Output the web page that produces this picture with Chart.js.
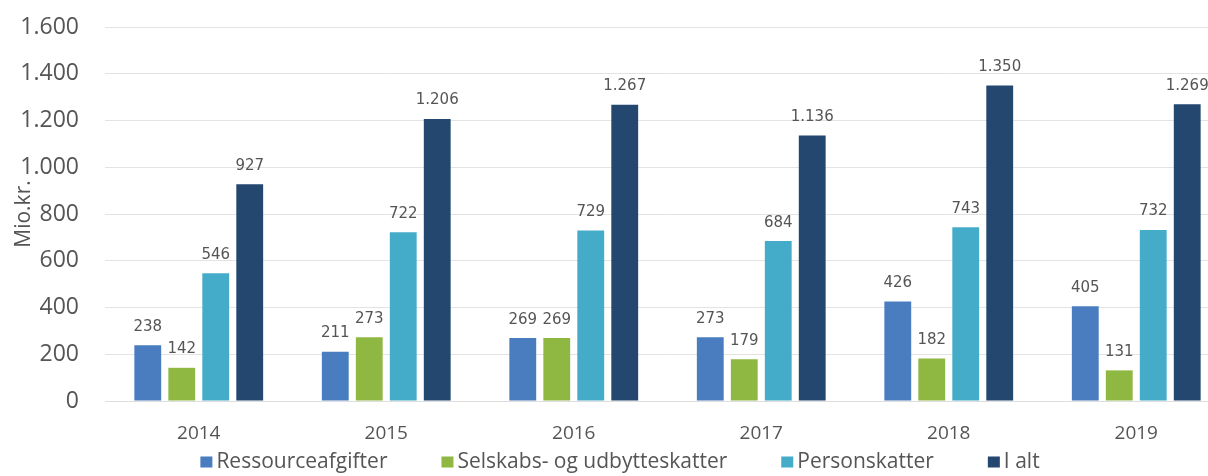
<!DOCTYPE html>
<html>
<head>
<meta charset="utf-8">
<script src="https://cdn.jsdelivr.net/npm/chart.js@4"></script>
<style>
  html, body { margin: 0; padding: 0; background: #fff; overflow: hidden; }
  #wrap { width: 1240px; height: 476px; }
</style>
</head>
<body>
<div id="wrap"><canvas id="chart1"></canvas></div>
<script>
const years = ['2014', '2015', '2016', '2017', '2018', '2019'];
const ressource = [238, 211, 269, 273, 426, 405];
const selskab = [142, 273, 269, 179, 182, 131];
const person = [546, 722, 729, 684, 743, 732];
const ialt = [927, 1206, 1267, 1136, 1350, 1269];

const fmt = v => String(v).replace(/\B(?=(\d{3})+(?!\d))/g, '.');

const FONT = '"Open Sans", "Noto Sans", sans-serif';

// value over each bar
const valueLabels = {
    id: 'valueLabels',
    afterDatasetsDraw(chart) {
        const ctx = chart.ctx;
        ctx.save();
        ctx.font = '15px "DejaVu Sans"';
        ctx.fillStyle = '#555';
        ctx.textAlign = 'center';
        ctx.textBaseline = 'bottom';
        chart.data.datasets.forEach((ds, i) => {
            chart.getDatasetMeta(i).data.forEach((bar, j) => {
                ctx.fillText(fmt(ds.data[j]), bar.x, bar.y - 11);
            });
        });
        ctx.restore();
    }
};

// legend row under the axis, wide gaps like the original
const bottomLegend = {
    id: 'bottomLegend',
    afterDraw(chart) {
        const ctx = chart.ctx;
        const box = 11, gapText = 5, gapItem = 54;
        ctx.save();
        ctx.font = '21px ' + FONT;
        const items = chart.data.datasets.map(ds => ({
            text: ds.label, color: ds.backgroundColor, w: ctx.measureText(ds.label).width
        }));
        const total = items.reduce((s, it) => s + box + gapText + it.w, 0) + gapItem * (items.length - 1);
        let x = chart.width / 2 - total / 2;
        const y = chart.height - 14;
        ctx.textBaseline = 'middle';
        ctx.textAlign = 'left';
        items.forEach(it => {
            ctx.fillStyle = it.color;
            ctx.fillRect(x, y - box / 2, box + 1, box);
            x += box + gapText;
            ctx.fillStyle = '#555';
            ctx.fillText(it.text, x, y);
            x += it.w + gapItem;
        });
        ctx.restore();
    }
};

const config1 = {
    type: 'bar',
    data: {
        labels: years,
        datasets: [
            { label: 'Ressourceafgifter', data: ressource, backgroundColor: '#4a7cc0' },
            { label: 'Selskabs- og udbytteskatter', data: selskab, backgroundColor: '#8fb843' },
            { label: 'Personskatter', data: person, backgroundColor: '#44acc9' },
            { label: 'I alt', data: ialt, backgroundColor: '#23476f' }
        ]
    },
    options: {
        responsive: true,
        maintainAspectRatio: false,
        animation: false,
        categoryPercentage: 0.725,
        barPercentage: 0.79,
        layout: { padding: { top: 27, right: 10, left: 11, bottom: 31 } },
        plugins: {
            legend: { display: false },
            tooltip: { enabled: false }
        },
        scales: {
            x: {
                grid: { display: false, drawTicks: false },
                border: { color: '#dedede' },
                ticks: { color: '#555', font: { family: FONT, size: 19 }, padding: 21 },
                afterFit: s => { s.height = 44; }
            },
            y: {
                min: 0,
                max: 1600,
                grid: { color: '#e3e3e3', drawTicks: false },
                border: { display: false },
                ticks: {
                    stepSize: 200,
                    color: '#555',
                    font: { family: FONT, size: 23 },
                    padding: 26,
                    callback: v => fmt(v)
                },
                title: {
                    display: true,
                    text: 'Mio.kr.',
                    color: '#555',
                    font: { family: FONT, size: 21 },
                    padding: 0
                },
                afterFit: s => { s.width = 94; s.paddingTop = 0; s.paddingBottom = 0; }
            }
        }
    },
    plugins: [valueLabels, bottomLegend]
};

const myChart1 = new Chart(document.getElementById('chart1'), config1);
</script>
</body>
</html>
